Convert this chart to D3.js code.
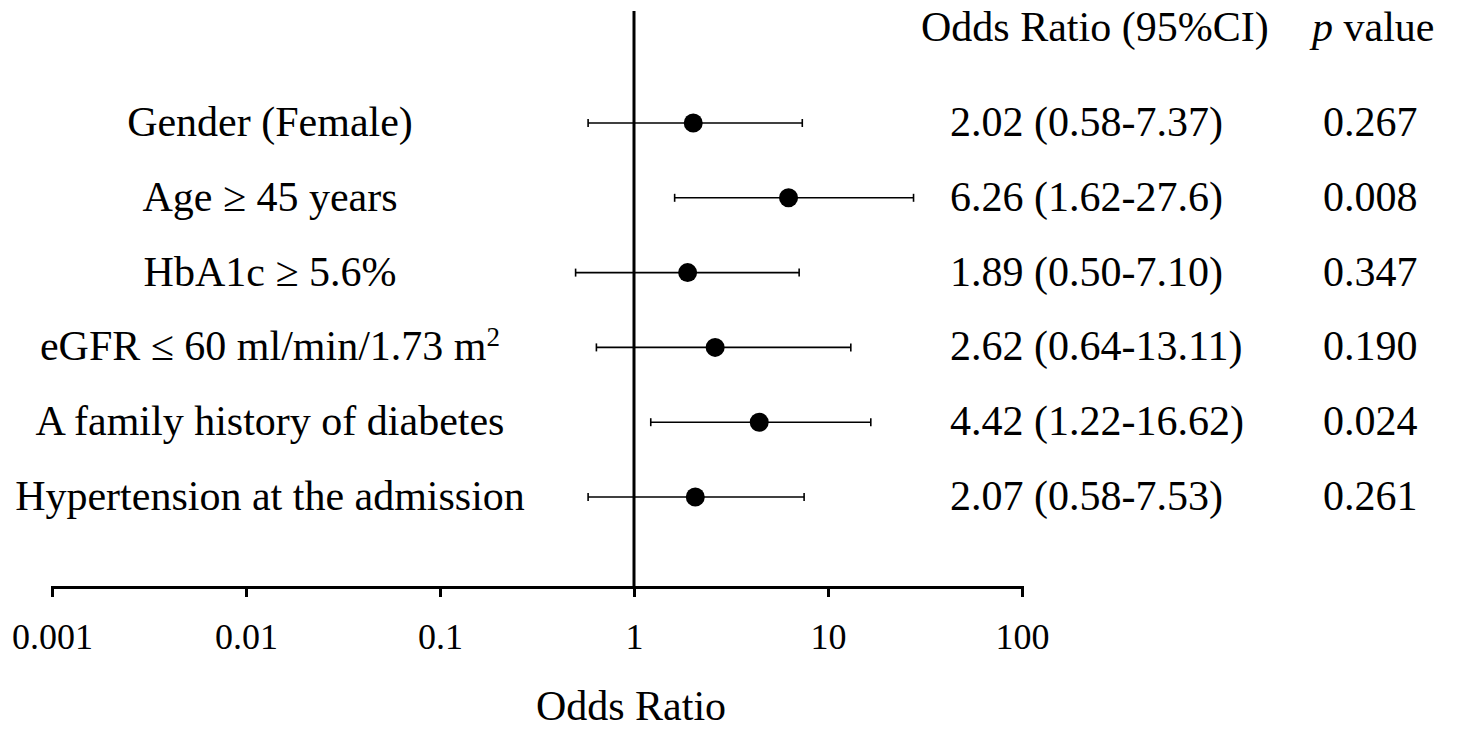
<!DOCTYPE html>
<html>
<head>
<meta charset="UTF-8">
<title>Forest plot</title>
<script src="https://d3js.org/d3.v7.min.js"></script>
<style>
  body { margin: 0; background: #fff; }
  text { font-family: "Liberation Serif", "Times New Roman", serif; fill: #000; }
</style>
</head>
<body>
<svg id="chart" width="1458" height="732"></svg>
<script>
// data
const labels = ["Gender (Female)", "Age \u2265 45 years", "HbA1c \u2265 5.6%", "eGFR \u2264 60 ml/min/1.73 m", "A family history of diabetes", "Hypertension at the admission"];
const oddsRatio = [2.02, 6.26, 1.89, 2.62, 4.42, 2.07];
const ciLow = [0.58, 1.62, 0.50, 0.64, 1.22, 0.58];
const ciHigh = [7.37, 27.6, 7.10, 13.11, 16.62, 7.53];
const orText = ["2.02 (0.58-7.37)", "6.26 (1.62-27.6)", "1.89 (0.50-7.10)", "2.62 (0.64-13.11)", "4.42 (1.22-16.62)", "2.07 (0.58-7.53)"];
const pText = ["0.267", "0.008", "0.347", "0.190", "0.024", "0.261"];
const tickValues = [0.001, 0.01, 0.1, 1, 10, 100];
const tickLabels = ["0.001", "0.01", "0.1", "1", "10", "100"];

const svg = d3.select("#chart");

const x = d3.scaleLog().domain([0.001, 100]).range([52, 1022]);
const y = d3.scalePoint().domain(d3.range(labels.length)).range([123, 497]);
const axisY = 587;

// x axis
const xAxis = d3.axisBottom(x)
  .tickValues(tickValues)
  .tickFormat((d, i) => tickLabels[i])
  .tickSizeOuter(0)
  .tickSize(10)
  .tickPadding(26);

const gx = svg.append("g").attr("transform", "translate(0," + axisY + ")").call(xAxis);
gx.select(".domain").attr("stroke", "#000").attr("stroke-width", 3);
gx.selectAll(".tick line").attr("stroke", "#000").attr("stroke-width", 3);
gx.selectAll(".tick text")
  .style("font-family", "'Liberation Serif', 'Times New Roman', serif")
  .style("font-size", "36px")
  .attr("fill", "#000");

// reference line at 1
svg.append("line")
  .attr("x1", x(1)).attr("x2", x(1))
  .attr("y1", 11).attr("y2", axisY)
  .attr("stroke", "#000").attr("stroke-width", 3);

// axis title
svg.append("text")
  .attr("x", 631).attr("y", 720)
  .attr("text-anchor", "middle")
  .style("font-size", "42px")
  .text("Odds Ratio");

// rows
const rows = svg.append("g").selectAll("g").data(d3.range(labels.length)).join("g");

rows.append("line")
  .attr("x1", i => x(ciLow[i])).attr("x2", i => x(ciHigh[i]))
  .attr("y1", i => y(i)).attr("y2", i => y(i))
  .attr("stroke", "#000").attr("stroke-width", 1.6);

rows.append("line")
  .attr("x1", i => x(ciLow[i])).attr("x2", i => x(ciLow[i]))
  .attr("y1", i => y(i) - 4).attr("y2", i => y(i) + 4)
  .attr("stroke", "#000").attr("stroke-width", 1.6);

rows.append("line")
  .attr("x1", i => x(ciHigh[i])).attr("x2", i => x(ciHigh[i]))
  .attr("y1", i => y(i) - 4).attr("y2", i => y(i) + 4)
  .attr("stroke", "#000").attr("stroke-width", 1.6);

rows.append("circle")
  .attr("cx", i => x(oddsRatio[i])).attr("cy", i => y(i))
  .attr("r", 9.5).attr("fill", "#000");

// row labels
const lab = rows.append("text")
  .attr("x", 270).attr("y", i => y(i) + 13)
  .attr("text-anchor", "middle")
  .style("font-size", "42px")
  .text(i => labels[i]);
lab.filter(i => i === 3).append("tspan")
  .attr("dy", -14).style("font-size", "27px").text("2");

rows.append("text")
  .attr("x", 950).attr("y", i => y(i) + 13)
  .style("font-size", "42px")
  .text(i => orText[i]);

rows.append("text")
  .attr("x", 1323).attr("y", i => y(i) + 13)
  .style("font-size", "42px")
  .text(i => pText[i]);

// column headers
svg.append("text")
  .attr("x", 921).attr("y", 41)
  .style("font-size", "42px")
  .text("Odds Ratio (95%CI)");

const ph = svg.append("text")
  .attr("x", 1312).attr("y", 41)
  .style("font-size", "42px");
ph.append("tspan").style("font-style", "italic").text("p");
ph.append("tspan").text(" value");
</script>
</body>
</html>
